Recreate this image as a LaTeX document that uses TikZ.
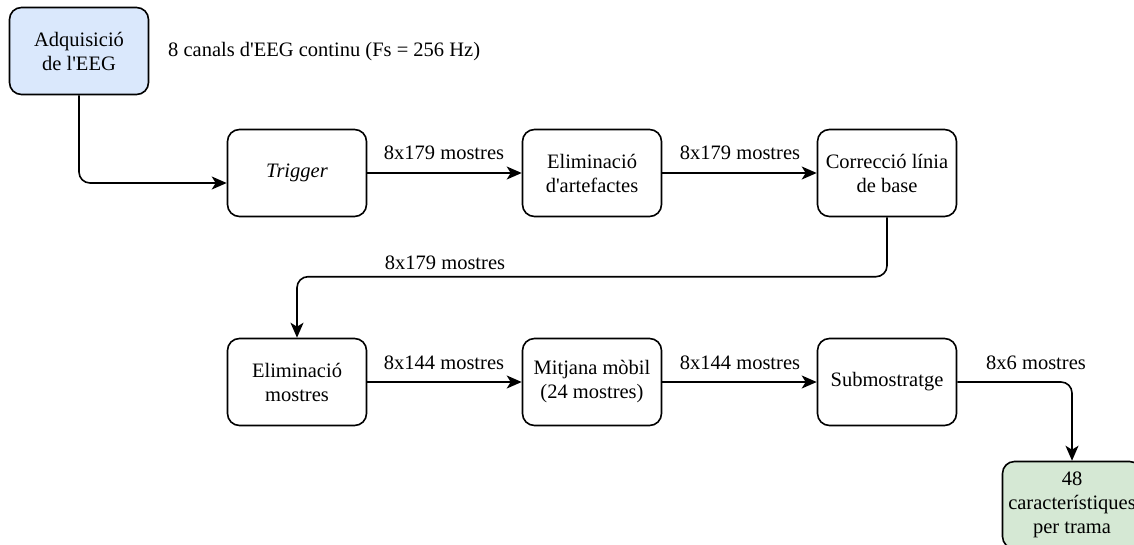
\documentclass[tikz,border=0pt]{standalone}
\usepackage{fontspec}
\usetikzlibrary{arrows.meta,calc}
% plain family: keeps straight apostrophes
\newfontfamily\diafont{Liberation Serif}
\definecolor{inblue}{HTML}{DAE8FC}
\definecolor{outgreen}{HTML}{D5E8D4}
\begin{document}
\begin{tikzpicture}[x=1pt,y=-1pt,
  every node/.style={font=\diafont\fontsize{20.5}{24}\selectfont},
  block/.style={draw=black,line width=1.6pt,rounded corners=12pt,
    minimum width=139pt,minimum height=87pt,inner sep=0pt,align=center},
  conn/.style={draw=black,line width=1.6pt,rounded corners=11pt,
    -{Stealth[length=15pt,width=13pt,inset=4pt]}},
  lbl/.style={inner sep=0pt}]
\clip (0,0) rectangle (1134,544);
\fill[white] (0,0) rectangle (1134,544);

% processing blocks
\node[block,fill=inblue] (adq) at (79,51) {Adquisició\\de l'EEG};
\node[block] (trig) at (297,173) {\itshape Trigger};
\node[block] (art)  at (592,173) {Eliminació\\d'artefactes};
\node[block] (base) at (887,173) {Correcció línia\\de base};
\node[block] (mos)  at (297,382) {Eliminació\\mostres};
\node[block] (mit)  at (592,382) {Mitjana mòbil\\(24 mostres)};
\node[block] (sub)  at (887,382) {Submostratge};
\node[block,fill=outgreen] (out) at (1072,505) {48\\característiques\\per trama};

% signal sizes along the chain
\node[lbl,anchor=west] (sig) at (168,52) {8 canals d'EEG continu (Fs = 256 Hz)};
\node[lbl] (s1) at (444,153) {8x179 mostres};
\node[lbl] (s2) at (740,153) {8x179 mostres};
\node[lbl] (s3) at (445,263) {8x179 mostres};
\node[lbl] (s4) at (444,363) {8x144 mostres};
\node[lbl] (s5) at (740,363) {8x144 mostres};
\node[lbl] (s6) at (1036,363) {8x6 mostres};

% connectors
\coordinate (tin) at ($(trig.west)+(0,10)$);
\coordinate (ret) at ($(mos.north)+(0,-61)$);
\draw[conn] (adq.south) |- (tin);
\draw[conn] (trig.east) -- (art.west);
\draw[conn] (art.east) -- (base.west);
\draw[conn] (base.south) |- (ret) -- (mos.north);
\draw[conn] (mos.east) -- (mit.west);
\draw[conn] (mit.east) -- (sub.west);
\draw[conn] (sub.east) -| (out.north);
\end{tikzpicture}
\end{document}
